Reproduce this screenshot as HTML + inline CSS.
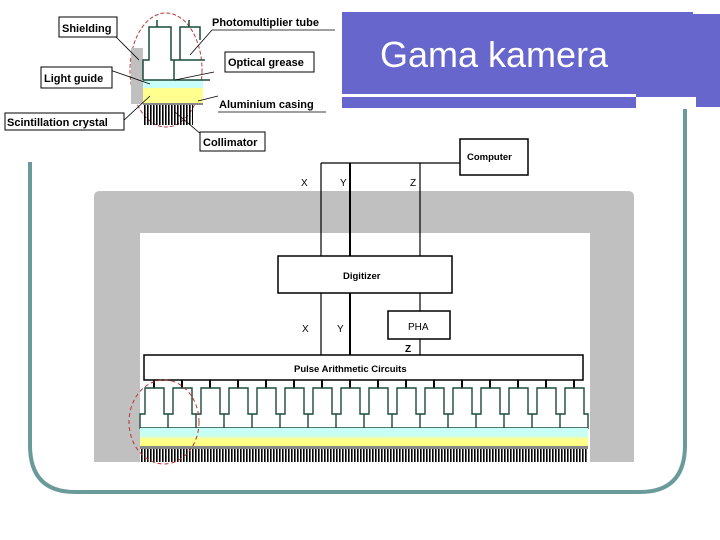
<!DOCTYPE html>
<html><head><style>body{margin:0;background:#fff}svg{display:block}</style></head><body>
<svg width="720" height="540" xmlns="http://www.w3.org/2000/svg" font-family="Liberation Sans, sans-serif">
<defs>
<pattern id="col" width="3" height="20" patternUnits="userSpaceOnUse"><rect width="1.6" height="20" fill="#000"/></pattern>
<linearGradient id="lg" x1="0" y1="0" x2="0" y2="1"><stop offset="0" stop-color="#c8fff8"/><stop offset="0.45" stop-color="#c8fff0"/><stop offset="0.6" stop-color="#ffff90"/><stop offset="1" stop-color="#ffff80"/></linearGradient>
</defs>
<!-- teal frame -->
<path d="M30 162 V445 Q30 492 75 492 H640 Q685 492 685 445 V107" fill="none" stroke="#6a9a9a" stroke-width="4"/>
<!-- title -->
<rect x="342" y="12" width="351" height="96" fill="#6666cc"/>
<rect x="690" y="14" width="30" height="93" fill="#6666cc"/>
<rect x="342" y="94" width="294" height="3" fill="#fff"/>
<rect x="636" y="97" width="60" height="12" fill="#fff"/>
<text x="380" y="67" font-size="36" fill="#fff">Gama kamera</text>
<!-- housing -->
<path d="M100 191 H628 Q634 191 634 197 V462 H590 V233 H140 V462 H94 V197 Q94 191 100 191Z" fill="#c0c0c0"/>
<!-- lines top -->
<g stroke="#000" fill="none">
<path d="M321 163 H460 M321 163 V256 M420 163 V256" stroke-width="1.2"/>
<path d="M350 163 V256 M350 293 V355" stroke-width="2"/>
<path d="M321 293 V355 M420 293 V311 M420 339 V355" stroke-width="1.2"/>
<rect x="460" y="139" width="68" height="36" fill="#fff" stroke-width="1.5"/>
<rect x="278" y="256" width="174" height="37" fill="#fff" stroke-width="1.5"/>
<rect x="388" y="311" width="62" height="28" fill="#fff" stroke-width="1.5"/>
<rect x="144" y="355" width="439" height="25" fill="#fff" stroke-width="1.5"/>
</g>
<g font-size="10" fill="#000">
<text x="467" y="160" font-weight="bold" font-size="9.5">Computer</text>
<text x="301" y="186">X</text><text x="340" y="186">Y</text><text x="410" y="186">Z</text>
<text x="343" y="279" font-weight="bold" font-size="9.5">Digitizer</text>
<text x="302" y="332">X</text><text x="337" y="332">Y</text><text x="408" y="330">PHA</text>
<text x="405" y="352" font-weight="bold">Z</text>
<text x="294" y="372" font-weight="bold" font-size="9.5">Pulse Arithmetic Circuits</text>
</g>
<!-- tubes -->
<g id="tubes" fill="#fff" stroke="#1a4a3a" stroke-width="1.5">
<path d="M154 380 V388 M182 380 V388 M210 380 V388 M238 380 V388 M266 380 V388 M294 380 V388 M322 380 V388 M350 380 V388 M378 380 V388 M406 380 V388 M434 380 V388 M462 380 V388 M490 380 V388 M518 380 V388 M546 380 V388 M574 380 V388" stroke="#000" stroke-width="2"/>
</g>
<g fill="#fff" stroke="#1a4a3a" stroke-width="1.4">
<path d="M140 428 V414 H145 V388 H164 V414 H173 V388 H192 V414 H201 V388 H220 V414 H229 V388 H248 V414 H257 V388 H276 V414 H285 V388 H304 V414 H313 V388 H332 V414 H341 V388 H360 V414 H369 V388 H388 V414 H397 V388 H416 V414 H425 V388 H444 V414 H453 V388 H472 V414 H481 V388 H500 V414 H509 V388 H528 V414 H537 V388 H556 V414 H565 V388 H584 V414 H588 V428 Z"/>
<path d="M168 414 V428 M196 414 V428 M224 414 V428 M252 414 V428 M280 414 V428 M308 414 V428 M336 414 V428 M364 414 V428 M392 414 V428 M420 414 V428 M448 414 V428 M476 414 V428 M504 414 V428 M532 414 V428 M560 414 V428"/>
</g>
<rect x="140" y="428" width="448" height="18" fill="url(#lg)"/>
<rect x="140" y="446" width="448" height="3" fill="#888"/>
<rect x="140" y="449" width="448" height="13" fill="url(#col)"/>
<ellipse cx="164" cy="422" rx="35" ry="42" fill="none" stroke="#c03030" stroke-dasharray="4,3"/>
<!-- inset -->
<ellipse cx="166" cy="70" rx="36" ry="57" fill="#fff" stroke="#b04040" stroke-dasharray="4,2"/>
<rect x="131" y="48" width="12" height="56" fill="#c0c0c0"/>
<rect x="143" y="80" width="60" height="8" fill="#c8fff8"/>
<rect x="143" y="88" width="60" height="15" fill="#ffff90"/>
<rect x="143" y="103" width="60" height="2" fill="#888"/>
<rect x="143" y="105" width="50" height="20" fill="url(#col)"/>
<path d="M143 80 V60 H149 V27 H171 V60 H180 V27 H200 V40 M205 60 H180 M143 80 H210 M174 60 V80 M157 20 V27 M189 20 V27" fill="none" stroke="#1a4a3a" stroke-width="1.5"/>
<g stroke="#000" stroke-width="0.8" fill="none">
<path d="M116 37 L139 60 M110 70 L150 84 M122 122 L150 96 M214 72 L175 80 M335 30 L212 30 L190 55 M218 96 L198 101 M202 135 L175 112 M218 112 L326 112"/>
</g>
<g font-size="11" font-weight="bold" fill="#000">
<rect x="59" y="17" width="58" height="20" fill="#fff" stroke="#000"/><text x="62" y="32">Shielding</text>
<text x="212" y="26">Photomultiplier tube</text>
<rect x="225" y="52" width="89" height="20" fill="#fff" stroke="#000"/><text x="228" y="66">Optical grease</text>
<rect x="41" y="67" width="71" height="21" fill="#fff" stroke="#000"/><text x="44" y="82">Light guide</text>
<text x="219" y="108">Aluminium casing</text>
<rect x="5" y="113" width="119" height="17" fill="#fff" stroke="#000"/><text x="7" y="126">Scintillation crystal</text>
<rect x="200" y="132" width="65" height="19" fill="#fff" stroke="#000"/><text x="203" y="146">Collimator</text>
</g>
</svg>
</body></html>
